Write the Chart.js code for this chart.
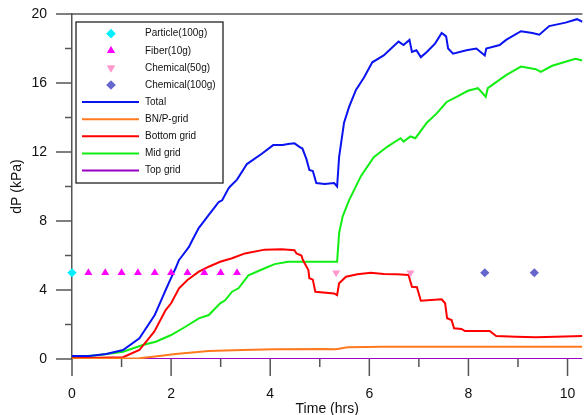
<!DOCTYPE html>
<html>
<head>
<meta charset="utf-8">
<script src="https://cdn.jsdelivr.net/npm/chart.js@4.4.0/dist/chart.umd.min.js"></script>
<style>
html,body{margin:0;padding:0;background:#fff;}
#wrap{position:relative;width:587px;height:415px;}
</style>
</head>
<body>
<div id="wrap"><canvas id="c" width="587" height="415"></canvas></div>
<script>
// ---- data (time in hrs, dP in kPa) ----
const particleT = [0];
const particleV = [5];
const fiberT = [0.33, 0.67, 1.0, 1.33, 1.67, 2.0, 2.33, 2.67, 3.0, 3.33];
const fiberV = [5, 5, 5, 5, 5, 5, 5, 5, 5, 5];
const chem50T = [5.33, 6.83];
const chem50V = [5, 5];
const chem100T = [8.33, 9.33];
const chem100V = [5, 5];

const totalT = [0, 0.35, 0.69, 1.03, 1.36, 1.67, 1.83, 1.89, 2.0, 2.09, 2.16, 2.23, 2.36, 2.43, 2.56, 2.63, 2.76, 2.89, 2.96, 3.03, 3.16, 3.19, 3.33, 3.53, 3.83, 4.06, 4.25, 4.36, 4.49, 4.59, 4.65, 4.73, 4.79, 4.86, 4.93, 5.1, 5.29, 5.35, 5.39, 5.49, 5.59, 5.73, 5.89, 6.06, 6.29, 6.59, 6.69, 6.81, 6.86, 6.95, 7.04, 7.16, 7.33, 7.46, 7.55, 7.59, 7.69, 7.96, 8.16, 8.33, 8.36, 8.63, 8.76, 9.06, 9.29, 9.43, 9.63, 9.96, 10.19, 10.3];
const totalV = [0.17, 0.17, 0.29, 0.52, 1.2, 2.55, 3.6, 4.0, 4.7, 5.26, 5.74, 6.0, 6.5, 6.9, 7.6, 7.86, 8.35, 8.83, 9.1, 9.2, 9.9, 10.0, 10.4, 11.3, 11.9, 12.4, 12.4, 12.46, 12.5, 12.3, 12.2, 11.6, 10.96, 10.9, 10.2, 10.15, 10.2, 10.0, 11.7, 13.7, 14.6, 15.6, 16.3, 17.2, 17.6, 18.4, 18.2, 18.5, 17.8, 17.9, 17.5, 17.8, 18.3, 18.9, 18.7, 18.0, 17.7, 17.9, 18.0, 17.6, 18.0, 18.2, 18.5, 19.0, 18.9, 18.8, 19.3, 19.5, 19.7, 19.55];

const bnpT = [0, 1.36, 1.76, 2.09, 2.76, 3.43, 4.09, 5.09, 5.33, 5.56, 6.29, 10.3];
const bnpV = [0, 0.04, 0.17, 0.29, 0.46, 0.52, 0.56, 0.58, 0.56, 0.68, 0.71, 0.71];

const bottomT = [0, 1.03, 1.36, 1.66, 1.89, 2.0, 2.16, 2.33, 2.56, 2.76, 2.99, 3.23, 3.49, 3.89, 4.23, 4.49, 4.53, 4.63, 4.66, 4.77, 4.79, 4.86, 4.91, 5.29, 5.35, 5.39, 5.53, 5.76, 6.03, 6.29, 6.56, 6.79, 6.86, 6.96, 7.04, 7.46, 7.53, 7.57, 7.66, 7.71, 7.86, 7.93, 8.43, 8.56, 8.96, 9.36, 9.76, 10.3];
const bottomV = [0.05, 0.1, 0.52, 1.58, 2.84, 3.23, 4.1, 4.58, 5.06, 5.35, 5.64, 5.84, 6.12, 6.34, 6.36, 6.3, 6.12, 6.0, 5.74, 5.16, 4.68, 4.6, 3.9, 3.8, 3.7, 4.39, 4.77, 4.91, 5.0, 4.93, 4.91, 4.87, 4.19, 4.16, 3.38, 3.46, 3.23, 2.36, 2.26, 1.78, 1.74, 1.62, 1.62, 1.33, 1.29, 1.26, 1.29, 1.33];

const midT = [0, 0.56, 1.03, 1.43, 1.69, 2.0, 2.29, 2.56, 2.76, 2.99, 3.09, 3.23, 3.36, 3.56, 3.89, 4.09, 4.36, 4.56, 5.0, 5.35, 5.39, 5.46, 5.59, 5.83, 6.09, 6.36, 6.63, 6.69, 6.83, 6.93, 7.16, 7.36, 7.56, 7.76, 7.99, 8.19, 8.35, 8.39, 8.76, 9.06, 9.36, 9.46, 9.69, 10.16, 10.3];
const midV = [0.1, 0.23, 0.42, 0.81, 1.0, 1.39, 1.87, 2.36, 2.55, 3.23, 3.4, 3.9, 4.1, 4.85, 5.26, 5.5, 5.64, 5.64, 5.64, 5.64, 7.3, 8.25, 9.2, 10.6, 11.7, 12.3, 12.8, 12.6, 12.9, 12.8, 13.7, 14.24, 14.9, 15.2, 15.55, 15.7, 15.2, 15.7, 16.46, 16.95, 16.8, 16.65, 17.0, 17.4, 17.3];

const topT = [0, 10.3];
const topV = [0, 0];

const xTicks = [0, 2, 4, 6, 8, 10];
const xMinor = [1, 3, 5, 7, 9];
const yTicks = [0, 4, 8, 12, 16, 20];
const yMinor = [2, 6, 10, 14, 18];

const FONT = "'Liberation Sans', Arial, Helvetica, sans-serif";
const AXIS = '#555555';

function pts(t, v) { return t.map((x, i) => ({x: x, y: v[i]})); }

function lineDs(label, t, v, color) {
  return {label, data: pts(t, v), borderColor: color, backgroundColor: color,
    borderWidth: 2, pointRadius: 0, showLine: true, tension: 0, fill: false, kind: 'line'};
}
function markDs(label, t, v, color, style, rot) {
  return {label, data: pts(t, v), borderColor: color, backgroundColor: color,
    pointStyle: style, rotation: rot || 0, pointRadius: 4.6, pointBorderWidth: 0,
    borderWidth: 0, showLine: false, clip: false, kind: 'mark'};
}

const datasets = [
  markDs('Particle(100g)', particleT, particleV, '#00f0ff', 'rectRot'),
  markDs('Fiber(10g)', fiberT, fiberV, '#ff00ff', 'triangle'),
  markDs('Chemical(50g)', chem50T, chem50V, '#ff99cc', 'triangle', 180),
  markDs('Chemical(100g)', chem100T, chem100V, '#6666cc', 'rectRot'),
  lineDs('Total', totalT, totalV, '#0a14f0'),
  lineDs('BN/P-grid', bnpT, bnpV, '#ff7a1f'),
  lineDs('Bottom grid', bottomT, bottomV, '#ff0000'),
  lineDs('Mid grid', midT, midV, '#11ee11'),
  lineDs('Top grid', topT, topV, '#9a00c8'),
];

const decor = {
  id: 'decor',
  beforeDatasetsDraw(chart) {
    const ctx = chart.ctx;
    const xs = chart.scales.x, ys = chart.scales.y;
    const ca = chart.chartArea;
    ctx.save();
    ctx.strokeStyle = AXIS;
    ctx.lineWidth = 1.5;
    ctx.beginPath();
    ctx.moveTo(ca.left, ys.getPixelForValue(20));
    ctx.lineTo(ca.right, ys.getPixelForValue(20));
    ctx.stroke();
    yTicks.forEach(v => { const p = ys.getPixelForValue(v); ctx.beginPath(); ctx.moveTo(ca.left - 16, p); ctx.lineTo(ca.left, p); ctx.stroke(); });
    yMinor.forEach(v => { const p = ys.getPixelForValue(v); ctx.beginPath(); ctx.moveTo(ca.left - 7, p); ctx.lineTo(ca.left, p); ctx.stroke(); });
    xTicks.forEach(v => { const p = xs.getPixelForValue(v); ctx.beginPath(); ctx.moveTo(p, ca.bottom); ctx.lineTo(p, ca.bottom + 17); ctx.stroke(); });
    xMinor.forEach(v => { const p = xs.getPixelForValue(v); ctx.beginPath(); ctx.moveTo(p, ca.bottom); ctx.lineTo(p, ca.bottom + 8); ctx.stroke(); });
    ctx.restore();
  },
  afterDraw(chart) {
    const ctx = chart.ctx;
    const ca = chart.chartArea;
    ctx.save();
    const bx = ca.left + 4, by = ca.top + 8, bw = 147, bh = 161;
    ctx.fillStyle = '#ffffff';
    ctx.fillRect(bx, by, bw, bh);
    ctx.strokeStyle = '#222222';
    ctx.lineWidth = 1.3;
    ctx.strokeRect(bx, by, bw, bh);
    ctx.font = '10px ' + FONT;
    ctx.textBaseline = 'middle';
    ctx.textAlign = 'left';
    chart.data.datasets.forEach((ds, i) => {
      const y = by + 11.7 + i * 17.1;
      if (ds.kind === 'mark') {
        ctx.fillStyle = ds.backgroundColor;
        ctx.beginPath();
        Chart.helpers.drawPoint(ctx, {pointStyle: ds.pointStyle, rotation: ds.rotation, radius: 4.6, borderWidth: 0}, bx + 35, y);
        ctx.fill();
      } else {
        ctx.strokeStyle = ds.borderColor;
        ctx.lineWidth = 2;
        ctx.beginPath();
        ctx.moveTo(bx + 6, y);
        ctx.lineTo(bx + 63, y);
        ctx.stroke();
      }
      ctx.fillStyle = '#111111';
      ctx.fillText(ds.label, bx + 69, y);
    });
    ctx.restore();
  }
};

new Chart(document.getElementById('c'), {
  type: 'scatter',
  data: {datasets},
  options: {
    responsive: false,
    animation: false,
    events: [],
    layout: {padding: {top: 14, right: 0, left: 0, bottom: 0}},
    plugins: {legend: {display: false}, tooltip: {enabled: false}},
    scales: {
      x: {
        type: 'linear', min: 0, max: 10.3,
        afterFit(s) { s.height = 56; },
        afterBuildTicks(s) { s.ticks = xTicks.map(v => ({value: v})); },
        grid: {display: false, drawTicks: true, tickLength: 24},
        border: {display: false},
        ticks: {padding: 3, color: '#111', font: {size: 14, family: FONT}, maxRotation: 0, autoSkip: false},
        title: {display: true, text: 'Time (hrs)', color: '#111', font: {size: 14, family: FONT, lineHeight: 0.86}, padding: 0}
      },
      y: {
        type: 'linear', min: 0, max: 20,
        afterFit(s) { s.width = 72; },
        afterBuildTicks(s) { s.ticks = yTicks.map(v => ({value: v})); },
        grid: {display: false, drawTicks: true, tickLength: 22},
        border: {display: true, color: AXIS, width: 1.5},
        ticks: {padding: 3, color: '#111', font: {size: 14, family: FONT}},
        title: {display: true, text: 'dP (kPa)', color: '#111', font: {size: 14, family: FONT}, padding: {top: 9, bottom: 0}}
      }
    }
  },
  plugins: [decor]
});
</script>
</body>
</html>
